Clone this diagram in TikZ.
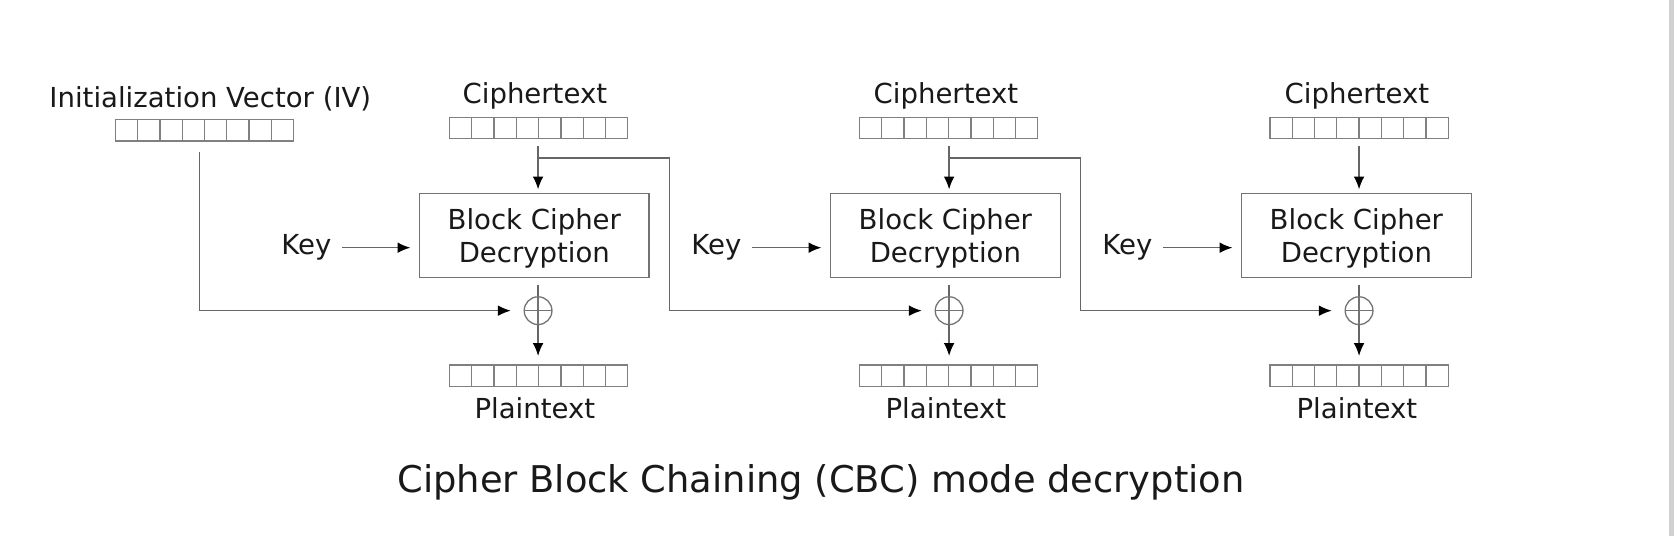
\documentclass[tikz,border=0pt]{standalone}
\usepackage{fontspec}
\setmainfont{DejaVu Sans}
\usetikzlibrary{positioning,calc,arrows.meta}

\tikzset{
  wire/.style={draw=black!60, line width=0.7pt},
  feed/.style={wire, -{Latex[length=6pt,width=5pt,color=black]}},
  lbl/.style={font=\fontsize{12.9}{15.5}\selectfont, text=black!90},
  keylbl/.style={lbl, inner sep=5pt},
  decbox/.style={lbl, draw=black!55, line width=0.6pt, minimum width=107.5pt, minimum height=39.5pt, align=center},
  regbox/.style={draw=black!50, line width=0.6pt, minimum width=83.5pt, minimum height=10pt, inner sep=0pt,
    path picture={\foreach \k in {1,...,7}
      \draw[black!50, line width=0.6pt] ($(path picture bounding box.south west)!\k/8!(path picture bounding box.south east)$) -- ($(path picture bounding box.north west)!\k/8!(path picture bounding box.north east)$);}},
  xorop/.style={circle, draw=black!55, line width=0.6pt, minimum size=13pt, inner sep=0pt,
    path picture={\draw[black!55, line width=0.6pt] (path picture bounding box.north) -- (path picture bounding box.south) (path picture bounding box.west) -- (path picture bounding box.east);}}
}
\newcommand{\dectext}{\rule{0pt}{12.8pt}Block Cipher\\Decryption}

\begin{document}
\begin{tikzpicture}[x=0.5pt, y=-0.5pt]
      \useasboundingbox (0,0) rectangle (1568,502);
      \fill[white] (0,0) rectangle (1568,502);
      \fill[black!18] (1563,0) rectangle (1568,502);

      % initialization vector
      \node[lbl] (ivlabel) at (197,93) {Initialization Vector (IV)};
      \node[regbox] (ivreg) at (191.5,122) {};
      \coordinate (ivtap) at (187,142);

      % first block
      \node[lbl] (ct1) at (501,90) {Ciphertext};
      \node[regbox] (ctreg1) at (504.5,120) {};
      \coordinate (ctout1) at (504,137);
      \coordinate (tap1) at (504,148);
      \coordinate (bend1) at (627,148);
      \node[decbox] (dec1) at (500.5,220.5) {\dectext};
      \node[keylbl] (key1) at (287,232) {Key};
      \node[xorop] (xor1) at (504,291) {};
      \node[regbox] (ptreg1) at (504.5,352) {};
      \node[lbl] (pt1) at (501,382) {Plaintext};

      % second block
      \node[lbl] (ct2) at (886,90) {Ciphertext};
      \node[regbox] (ctreg2) at (888.5,120) {};
      \coordinate (ctout2) at (889,137);
      \coordinate (tap2) at (889,148);
      \coordinate (bend2) at (1012,148);
      \node[decbox] (dec2) at (885.5,220.5) {\dectext};
      \node[keylbl] (key2) at (671,232) {Key};
      \node[xorop] (xor2) at (889,291) {};
      \node[regbox] (ptreg2) at (888.5,352) {};
      \node[lbl] (pt2) at (886,382) {Plaintext};

      % third block
      \node[lbl] (ct3) at (1271,90) {Ciphertext};
      \node[regbox] (ctreg3) at (1273,120) {};
      \coordinate (ctout3) at (1273,137);
      \node[decbox] (dec3) at (1270.5,220.5) {\dectext};
      \node[keylbl] (key3) at (1056,232) {Key};
      \node[xorop] (xor3) at (1273,291) {};
      \node[regbox] (ptreg3) at (1273,352) {};
      \node[lbl] (pt3) at (1271,382) {Plaintext};

      \node[font=\fontsize{17.25}{20}\selectfont, text=black!90] (title) at (769,452) {Cipher Block Chaining (CBC) mode decryption};

      % connectors
      \draw[feed, shorten >=6pt] (ivtap) |- (xor1);
      \draw[feed, shorten >=6pt] (tap1) -- (bend1) |- (xor2);
      \draw[feed, shorten >=6pt] (tap2) -- (bend2) |- (xor3);

      \draw[feed, shorten >=1.5pt] (ctout1) -- (ctout1 |- dec1.north);
      \draw[feed, shorten >=1.5pt] (ctout2) -- (ctout2 |- dec2.north);
      \draw[feed, shorten >=1.5pt] (ctout3) -- (ctout3 |- dec3.north);

      \draw[feed, shorten >=4pt] (key1.east) -- (key1.east -| dec1.west);
      \draw[feed, shorten >=4pt] (key2.east) -- (key2.east -| dec2.west);
      \draw[feed, shorten >=4pt] (key3.east) -- (key3.east -| dec3.west);

      \draw[wire, shorten <=3pt] (xor1 |- dec1.south) -- (xor1.north);
      \draw[wire, shorten <=3pt] (xor2 |- dec2.south) -- (xor2.north);
      \draw[wire, shorten <=3pt] (xor3 |- dec3.south) -- (xor3.north);

      \draw[feed, shorten >=4pt] (xor1.south) -- (xor1 |- ptreg1.north);
      \draw[feed, shorten >=4pt] (xor2.south) -- (xor2 |- ptreg2.north);
      \draw[feed, shorten >=4pt] (xor3.south) -- (xor3 |- ptreg3.north);
\end{tikzpicture}
\end{document}
